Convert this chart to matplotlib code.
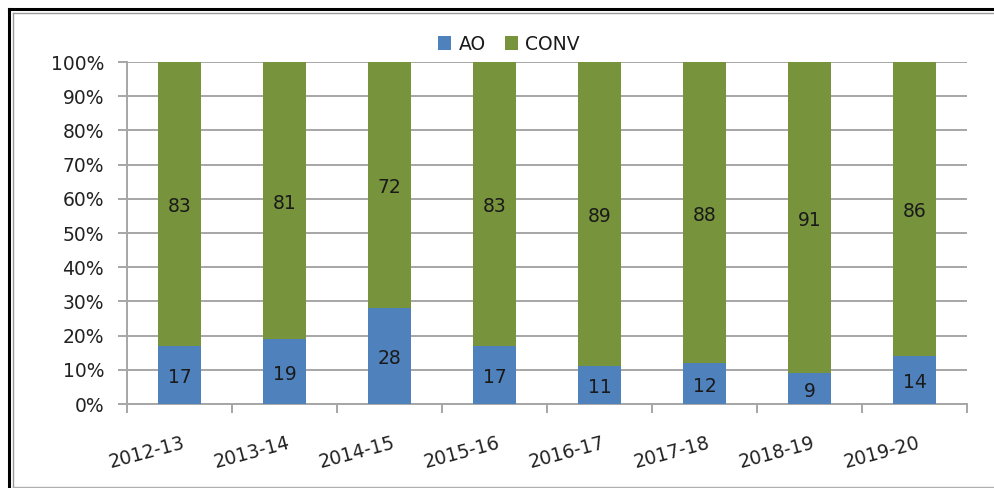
import matplotlib
matplotlib.use("Agg")
import matplotlib.pyplot as plt
from matplotlib.lines import Line2D
import numpy as np

years = ["2012-13", "2013-14", "2014-15", "2015-16", "2016-17", "2017-18", "2018-19", "2019-20"]
ao = [17, 19, 28, 17, 11, 12, 9, 14]
conv = [83, 81, 72, 83, 89, 88, 91, 86]

blue = "#4F81BD"
green = "#77933C"
FS = 13.5
W, H = 994, 488
fig = plt.figure(figsize=(W / 100, H / 100), dpi=100)
ax = fig.add_axes([127 / W, 1 - 404 / H, (967 - 127) / W, (404 - 62) / H])

x = np.arange(len(years))
bw = 0.41
ax.bar(x, ao, width=bw, color=blue, zorder=3, label="AO")
ax.bar(x, conv, bottom=ao, width=bw, color=green, zorder=3, label="CONV")

for i in range(len(years)):
    ax.text(x[i], ao[i] / 2 - 0.8, str(ao[i]), ha="center", va="center",
            fontsize=FS, color="#1a1a1a", zorder=4)
    ax.text(x[i], ao[i] + conv[i] / 2 - 0.8, str(conv[i]), ha="center", va="center",
            fontsize=FS, color="#1a1a1a", zorder=4)

ax.set_xlim(-0.5, len(years) - 0.5)
ax.set_ylim(0, 100)
ax.set_yticks(np.arange(0, 101, 10))
ax.set_yticklabels([f"{v}%" for v in range(0, 101, 10)], fontsize=FS, color="#222222")
ax.yaxis.grid(True, color="#A6A6A6", linewidth=1.4, zorder=0)
ax.tick_params(axis="y", length=6.5, width=1.4, color="#A6A6A6", pad=10)

ax.set_xticks(np.arange(-0.5, len(years), 1.0), minor=False)
ax.set_xticklabels([""] * (len(years) + 1))
ax.tick_params(axis="x", which="major", length=6.5, width=1.4, color="#A6A6A6")
ax.set_xticks(x + 0.02, minor=True)
ax.set_xticklabels(years, minor=True, rotation=15, fontsize=FS, color="#222222",
                   ha="right", va="top")
for lab in ax.get_xticklabels(minor=True):
    lab.set_rotation_mode("anchor")
ax.tick_params(axis="x", which="minor", length=0, pad=21)

for s in ["top", "right"]:
    ax.spines[s].set_visible(False)
for s in ["left", "bottom"]:
    ax.spines[s].set_color("#A6A6A6")
    ax.spines[s].set_linewidth(1.4)

leg = fig.legend(loc="center", bbox_to_anchor=(509 / W, 1 - 44 / H), ncol=2, frameon=False,
                 fontsize=FS, handlelength=0.7, handleheight=0.7, handletextpad=0.4,
                 columnspacing=1.0)
for t in leg.get_texts():
    t.set_color("#1a1a1a")

# frame
def fline(xs, ys, color, lw):
    fig.add_artist(Line2D([v / W for v in xs], [1 - v / H for v in ys],
                          color=color, linewidth=lw, transform=fig.transFigure))
fline([9, W], [9, 9], "black", 2.2)
fline([9, 9], [9, H], "black", 2.2)
fline([13, W], [13, 13], "#9a9a9a", 1.0)
fline([13, 13], [13, H], "#9a9a9a", 1.0)
fline([13, W], [486.5, 486.5], "#b0b0b0", 1.0)

fig.savefig("out.png", dpi=100)
